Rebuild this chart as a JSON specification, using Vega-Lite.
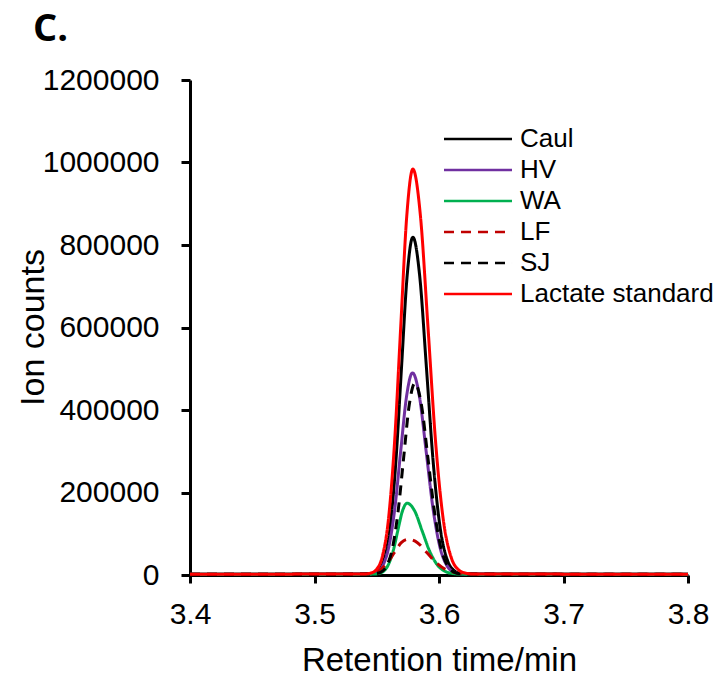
{
  "$schema": "https://vega.github.io/schema/vega-lite/v6.json",
  "autosize": {"type": "none"},
  "width": 498,
  "height": 495,
  "padding": {"left": 190, "top": 80, "right": 32, "bottom": 107},
  "background": "white",
  "title": {"text": "C.", "anchor": "start", "frame": "group", "dx": -157, "offset": 16, "font": "Open Sans", "fontWeight": "bold", "fontSize": 38, "color": "black"},
  "config": {
    "view": {"stroke": null},
    "axis": {"grid": false, "domainColor": "black", "domainWidth": 3, "tickColor": "black", "tickWidth": 3, "tickSize": 8, "labelColor": "black", "labelFont": "Liberation Sans", "titleFont": "Liberation Sans", "titleColor": "black", "titleFontWeight": "normal"}
  },
  "data": {"values": [
    {"s": "Caul", "t": 3.4, "v": 2000},
    {"s": "Caul", "t": 3.5422, "v": 2300},
    {"s": "Caul", "t": 3.5468, "v": 3800},
    {"s": "Caul", "t": 3.5514, "v": 11100},
    {"s": "Caul", "t": 3.556, "v": 37950},
    {"s": "Caul", "t": 3.5606, "v": 112800},
    {"s": "Caul", "t": 3.5652, "v": 267900},
    {"s": "Caul", "t": 3.5698, "v": 498700},
    {"s": "Caul", "t": 3.5744, "v": 724800},
    {"s": "Caul", "t": 3.579, "v": 819000},
    {"s": "Caul", "t": 3.5845, "v": 724800},
    {"s": "Caul", "t": 3.59, "v": 498700},
    {"s": "Caul", "t": 3.5955, "v": 267900},
    {"s": "Caul", "t": 3.601, "v": 112800},
    {"s": "Caul", "t": 3.6065, "v": 37950},
    {"s": "Caul", "t": 3.612, "v": 11100},
    {"s": "Caul", "t": 3.6175, "v": 3800},
    {"s": "Caul", "t": 3.623, "v": 2300},
    {"s": "Caul", "t": 3.8, "v": 2000},
    {"s": "HV", "t": 3.4, "v": 2000},
    {"s": "HV", "t": 3.5407, "v": 2160},
    {"s": "HV", "t": 3.5455, "v": 3080},
    {"s": "HV", "t": 3.5502, "v": 7440},
    {"s": "HV", "t": 3.555, "v": 23500},
    {"s": "HV", "t": 3.5597, "v": 68300},
    {"s": "HV", "t": 3.5645, "v": 161100},
    {"s": "HV", "t": 3.5692, "v": 299200},
    {"s": "HV", "t": 3.574, "v": 434400},
    {"s": "HV", "t": 3.5787, "v": 490000},
    {"s": "HV", "t": 3.5842, "v": 434400},
    {"s": "HV", "t": 3.5897, "v": 299200},
    {"s": "HV", "t": 3.5952, "v": 161100},
    {"s": "HV", "t": 3.6007, "v": 68300},
    {"s": "HV", "t": 3.6062, "v": 23500},
    {"s": "HV", "t": 3.6117, "v": 7440},
    {"s": "HV", "t": 3.6172, "v": 3080},
    {"s": "HV", "t": 3.6227, "v": 2160},
    {"s": "HV", "t": 3.8, "v": 2000},
    {"s": "WA", "t": 3.4, "v": 2000},
    {"s": "WA", "t": 3.5444, "v": 2060},
    {"s": "WA", "t": 3.5482, "v": 2380},
    {"s": "WA", "t": 3.5519, "v": 3930},
    {"s": "WA", "t": 3.5557, "v": 9640},
    {"s": "WA", "t": 3.5594, "v": 25500},
    {"s": "WA", "t": 3.5632, "v": 58500},
    {"s": "WA", "t": 3.5669, "v": 107500},
    {"s": "WA", "t": 3.5707, "v": 155600},
    {"s": "WA", "t": 3.5744, "v": 174000},
    {"s": "WA", "t": 3.5804, "v": 155600},
    {"s": "WA", "t": 3.5864, "v": 107500},
    {"s": "WA", "t": 3.5924, "v": 58500},
    {"s": "WA", "t": 3.5984, "v": 25500},
    {"s": "WA", "t": 3.6044, "v": 9640},
    {"s": "WA", "t": 3.6104, "v": 3930},
    {"s": "WA", "t": 3.6164, "v": 2380},
    {"s": "WA", "t": 3.6224, "v": 2060},
    {"s": "WA", "t": 3.8, "v": 2000},
    {"s": "LF", "t": 3.4, "v": 2000},
    {"s": "LF", "t": 3.5312, "v": 2030},
    {"s": "LF", "t": 3.5367, "v": 2190},
    {"s": "LF", "t": 3.5422, "v": 2960},
    {"s": "LF", "t": 3.5477, "v": 5800},
    {"s": "LF", "t": 3.5532, "v": 13700},
    {"s": "LF", "t": 3.5587, "v": 30100},
    {"s": "LF", "t": 3.5642, "v": 54500},
    {"s": "LF", "t": 3.5697, "v": 78300},
    {"s": "LF", "t": 3.5752, "v": 86500},
    {"s": "LF", "t": 3.5827, "v": 78300},
    {"s": "LF", "t": 3.5902, "v": 54500},
    {"s": "LF", "t": 3.5977, "v": 30100},
    {"s": "LF", "t": 3.6052, "v": 13700},
    {"s": "LF", "t": 3.6127, "v": 5800},
    {"s": "LF", "t": 3.6202, "v": 2960},
    {"s": "LF", "t": 3.6277, "v": 2190},
    {"s": "LF", "t": 3.6352, "v": 2030},
    {"s": "LF", "t": 3.8, "v": 2000},
    {"s": "SJ", "t": 3.4, "v": 2000},
    {"s": "SJ", "t": 3.5446, "v": 2160},
    {"s": "SJ", "t": 3.5491, "v": 3020},
    {"s": "SJ", "t": 3.5536, "v": 7160},
    {"s": "SJ", "t": 3.5581, "v": 22400},
    {"s": "SJ", "t": 3.5626, "v": 64900},
    {"s": "SJ", "t": 3.5671, "v": 153000},
    {"s": "SJ", "t": 3.5716, "v": 284000},
    {"s": "SJ", "t": 3.5761, "v": 412400},
    {"s": "SJ", "t": 3.5806, "v": 465000},
    {"s": "SJ", "t": 3.5859, "v": 412400},
    {"s": "SJ", "t": 3.5911, "v": 284000},
    {"s": "SJ", "t": 3.5964, "v": 153000},
    {"s": "SJ", "t": 3.6016, "v": 64900},
    {"s": "SJ", "t": 3.6069, "v": 22400},
    {"s": "SJ", "t": 3.6121, "v": 7160},
    {"s": "SJ", "t": 3.6174, "v": 3020},
    {"s": "SJ", "t": 3.6226, "v": 2160},
    {"s": "SJ", "t": 3.8, "v": 2000},
    {"s": "Lactate standard", "t": 3.4, "v": 2000},
    {"s": "Lactate standard", "t": 3.5398, "v": 2300},
    {"s": "Lactate standard", "t": 3.5447, "v": 4200},
    {"s": "Lactate standard", "t": 3.5496, "v": 12900},
    {"s": "Lactate standard", "t": 3.5545, "v": 45200},
    {"s": "Lactate standard", "t": 3.5594, "v": 135100},
    {"s": "Lactate standard", "t": 3.5643, "v": 321500},
    {"s": "Lactate standard", "t": 3.5692, "v": 598800},
    {"s": "Lactate standard", "t": 3.5741, "v": 870000},
    {"s": "Lactate standard", "t": 3.579, "v": 984000},
    {"s": "Lactate standard", "t": 3.5851, "v": 870000},
    {"s": "Lactate standard", "t": 3.5912, "v": 598800},
    {"s": "Lactate standard", "t": 3.5973, "v": 321500},
    {"s": "Lactate standard", "t": 3.6034, "v": 135100},
    {"s": "Lactate standard", "t": 3.6095, "v": 45200},
    {"s": "Lactate standard", "t": 3.6156, "v": 12900},
    {"s": "Lactate standard", "t": 3.6217, "v": 4200},
    {"s": "Lactate standard", "t": 3.6278, "v": 2300},
    {"s": "Lactate standard", "t": 3.8, "v": 2000}
  ]},
  "mark": {"type": "line", "interpolate": "monotone", "strokeWidth": 3},
  "encoding": {
    "x": {"field": "t", "type": "quantitative", "scale": {"domain": [3.4, 3.8], "nice": false, "zero": false},
      "axis": {"values": [3.4, 3.5, 3.6, 3.7, 3.8], "format": ".1f", "labelFontSize": 30, "labelPadding": 16, "labelFlush": false, "title": "Retention time/min", "titleFontSize": 33, "titlePadding": 15}},
    "y": {"field": "v", "type": "quantitative", "scale": {"domain": [0, 1200000], "nice": false},
      "axis": {"values": [0, 200000, 400000, 600000, 800000, 1000000, 1200000], "format": "d", "labelFontSize": 30, "labelPadding": 22, "tickSize": 9, "title": "Ion counts", "titleFontSize": 34, "titleX": -140, "titleY": 247}},
    "color": {"field": "s", "type": "nominal", "sort": null,
      "scale": {"domain": ["Caul", "HV", "WA", "LF", "SJ", "Lactate standard"], "range": ["#000000", "#7030A0", "#00B050", "#C00000", "#000000", "#FF0000"]},
      "legend": {"title": null, "orient": "none", "legendX": 275, "legendY": 46, "symbolType": "M-3,0H3", "symbolSize": 514, "symbolStrokeWidth": 2.5, "labelFontSize": 26, "labelFont": "Liberation Sans", "labelColor": "black", "labelLimit": 400, "labelOffset": 29, "rowPadding": 5}},
    "strokeDash": {"field": "s", "type": "nominal", "sort": null,
      "scale": {"domain": ["Caul", "HV", "WA", "LF", "SJ", "Lactate standard"], "range": [[1, 0], [1, 0], [1, 0], [10, 7], [10, 7], [1, 0]]},
      "legend": {"title": null, "orient": "none", "legendX": 275, "legendY": 46, "symbolType": "M-3,0H3", "symbolSize": 514, "symbolStrokeWidth": 2.5, "labelFontSize": 26, "labelFont": "Liberation Sans", "labelColor": "black", "labelLimit": 400, "labelOffset": 29, "rowPadding": 5}}
  }
}
